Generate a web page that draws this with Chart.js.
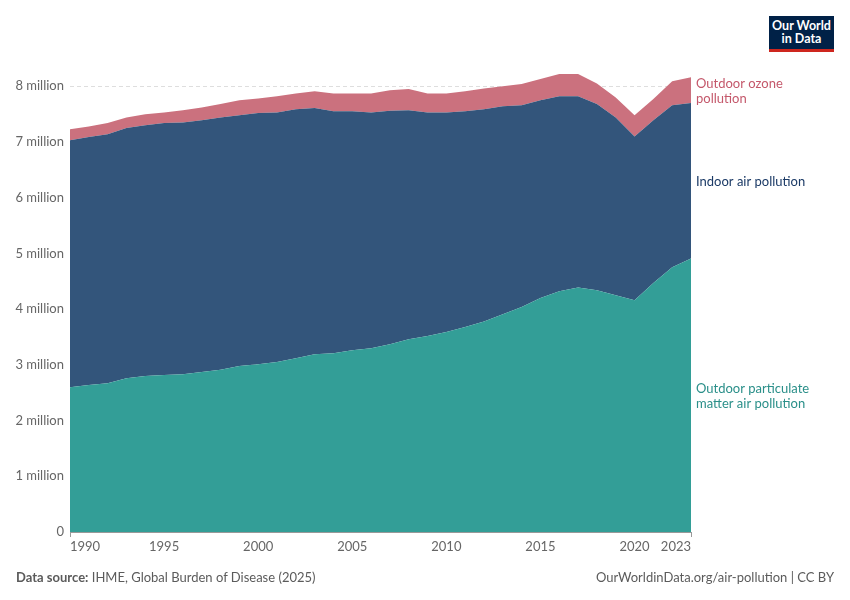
<!DOCTYPE html>
<html>
<head>
<meta charset="utf-8">
<script src="https://cdn.jsdelivr.net/npm/chart.js@4"></script>
<style>
  body { margin: 0; background: #fff; font-family: Lato, "Noto Sans", sans-serif; }
  #wrap { position: relative; width: 850px; height: 600px; }
  canvas { position: absolute; left: 0; top: 0; }
  .logo { position: absolute; left: 769px; top: 16px; width: 65px; background: #002147;
          border-bottom: 3px solid #ce261e; color: #fff; font-weight: 700; font-size: 12.5px;
          line-height: 12.5px; text-align: center; padding-top: 4px; box-sizing: content-box; height: 29px; }
  .foot { position: absolute; top: 569px; font-size: 13px; color: #5b5b5b; }
  .foot b { font-weight: 700; }
</style>
</head>
<body>
<div id="wrap">
  <canvas id="air-pollution-chart" width="850" height="600"></canvas>
  <div class="logo">Our World<br>in Data</div>
  <div class="foot" style="left:16px"><b>Data source:</b> IHME, Global Burden of Disease (2025)</div>
  <div class="foot" style="right:16px">OurWorldinData.org/air-pollution | CC BY</div>
</div>
<script>
const years = [1990, 1991, 1992, 1993, 1994, 1995, 1996, 1997, 1998, 1999,
  2000, 2001, 2002, 2003, 2004, 2005, 2006, 2007, 2008, 2009,
  2010, 2011, 2012, 2013, 2014, 2015, 2016, 2017, 2018, 2019,
  2020, 2021, 2022, 2023];

// deaths, millions
const particulate = [2.60, 2.64, 2.67, 2.76, 2.80, 2.82, 2.83, 2.87, 2.91, 2.98,
  3.01, 3.05, 3.12, 3.19, 3.21, 3.26, 3.30, 3.37, 3.46, 3.52,
  3.59, 3.68, 3.78, 3.91, 4.04, 4.20, 4.32, 4.39, 4.34, 4.25,
  4.16, 4.47, 4.75, 4.91];
const indoor = [4.43, 4.45, 4.47, 4.49, 4.50, 4.52, 4.52, 4.52, 4.53, 4.50,
  4.51, 4.48, 4.47, 4.42, 4.34, 4.29, 4.23, 4.19, 4.11, 4.01,
  3.94, 3.87, 3.81, 3.73, 3.62, 3.55, 3.50, 3.43, 3.34, 3.19,
  2.94, 2.92, 2.91, 2.79];
const ozone = [0.20, 0.19, 0.20, 0.19, 0.20, 0.19, 0.22, 0.23, 0.24, 0.27,
  0.26, 0.29, 0.28, 0.30, 0.32, 0.32, 0.34, 0.37, 0.38, 0.34,
  0.34, 0.36, 0.37, 0.36, 0.38, 0.38, 0.40, 0.40, 0.37, 0.36,
  0.38, 0.38, 0.43, 0.46];

const xTicks = [1990, 1995, 2000, 2005, 2010, 2015, 2020, 2023];
const yTicks = [0, 1, 2, 3, 4, 5, 6, 7, 8];

const seriesLabels = [
  { lines: ["Outdoor particulate", "matter air pollution"], color: "#2a8f89" },
  { lines: ["Indoor air pollution"], color: "#1b3a66" },
  { lines: ["Outdoor ozone", "pollution"], color: "#c4586b" },
];

function toPoints(values) {
  return values.map((v, i) => ({ x: years[i], y: v }));
}

// labels to the right of the last year, centred on each band
const endLabels = {
  id: "endLabels",
  afterDraw(chart) {
    const ctx = chart.ctx;
    const y = chart.scales.y;
    const x = chart.chartArea.right + 5;
    let base = 0;
    ctx.save();
    ctx.font = "13px Lato";
    ctx.textBaseline = "middle";
    chart.data.datasets.forEach((ds, i) => {
      const last = ds.data[ds.data.length - 1].y;
      const mid = (y.getPixelForValue(base) + y.getPixelForValue(base + last)) / 2 + 1.5;
      base += last;
      const lab = seriesLabels[i];
      ctx.fillStyle = lab.color;
      const lh = 15;
      const top = mid - ((lab.lines.length - 1) * lh) / 2;
      lab.lines.forEach((t, j) => ctx.fillText(t, x, top + j * lh));
    });
    ctx.restore();
  },
};

new Chart(document.getElementById("air-pollution-chart"), {
  type: "line",
  data: {
    datasets: [
      {
        label: "Outdoor particulate matter air pollution",
        data: toPoints(particulate),
        backgroundColor: "#339e97",
        fill: "origin",
      },
      {
        label: "Indoor air pollution",
        data: toPoints(indoor),
        backgroundColor: "#33557b",
        fill: "-1",
      },
      {
        label: "Outdoor ozone pollution",
        data: toPoints(ozone),
        backgroundColor: "#cb717e",
        fill: "-1",
      },
    ],
  },
  options: {
    responsive: false,
    animation: false,
    layout: { padding: { left: 0, right: 159, top: 64, bottom: 0 } },
    elements: {
      point: { radius: 0 },
      line: { borderWidth: 0, tension: 0 },
    },
    plugins: {
      legend: { display: false },
      tooltip: { enabled: false },
    },
    scales: {
      x: {
        type: "linear",
        min: 1990,
        max: 2023,
        afterBuildTicks: (scale) => {
          scale.ticks = xTicks.map((v) => ({ value: v }));
        },
        afterFit: (scale) => {
          scale.height = 68;
        },
        ticks: {
          color: "#666",
          font: { family: "Lato", size: 13 },
          padding: 2,
          maxRotation: 0,
          align: "inner",
          callback: (v) => String(v),
        },
        grid: {
          drawOnChartArea: false,
          tickLength: 5,
          color: (c) =>
            c.tick && (c.tick.value === 1990 || c.tick.value === 2023) ? "#999" : "rgba(0,0,0,0)",
        },
        border: { display: true, color: "#999" },
      },
      y: {
        stacked: true,
        min: 0,
        max: 8.4,
        z: 1,
        afterBuildTicks: (scale) => {
          scale.ticks = yTicks.map((v) => ({ value: v }));
        },
        afterFit: (scale) => {
          scale.width = 70;
        },
        ticks: {
          color: "#666",
          font: { family: "Lato", size: 13 },
          padding: 6,
          callback: (v) => (v === 0 ? "0" : v + " million"),
        },
        grid: {
          drawTicks: false,
          color: (c) => (c.tick && c.tick.value === 0 ? "rgba(0,0,0,0)" : "rgba(0,0,0,0.13)"),
        },
        border: { display: false, dash: [4, 3] },
      },
    },
  },
  plugins: [endLabels],
});
</script>
</body>
</html>
